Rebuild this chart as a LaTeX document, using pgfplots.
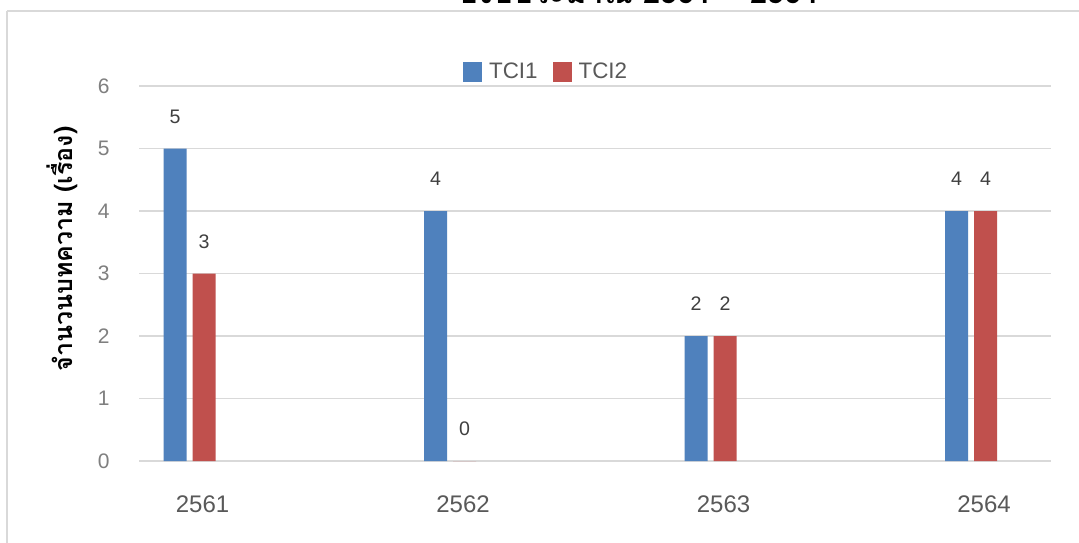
\documentclass[border=0pt]{standalone}
\usepackage{pgfplots}
\pgfplotsset{compat=1.18}
\usepackage{fontspec}
\setmainfont{Liberation Sans}
\newfontfamily\thaifont[Script=Thai]{Loma}
\definecolor{tciblue}{HTML}{4F81BD}
\definecolor{tcired}{HTML}{C0504D}
\definecolor{gridgray}{HTML}{D9D9D9}
\definecolor{txtgray}{HTML}{595959}
\definecolor{tickgray}{HTML}{7F7F7F}
\definecolor{valgray}{HTML}{404040}

\begin{document}
\begin{tikzpicture}[x=0.5pt, y=-0.5pt]
\useasboundingbox (0,0) rectangle (1079,542);
\fill[white] (0,0) rectangle (1079,542);
% chart frame (only top and left edge are inside the picture)
\draw[gridgray, line width=0.8pt] (7,11) -- (1100,11);
\draw[gridgray, line width=0.8pt] (7,11) -- (7,560);
% title, cut off at the top as in the source
\node[anchor=base, font=\thaifont\bfseries\fontsize{15.5}{18}\selectfont] at (639,3) {ปีงบประมาณ 2561 – 2564};
\coordinate (O) at (139,461);
\begin{axis}[
    at={(O)}, anchor=south west,
    scale only axis,
    width=456pt, height=187.5pt,
    ybar=3pt,
    bar width=11.5pt,
    xmin=-0.194, xmax=3.307,
    ymin=0, ymax=6,
    ytick={0,1,...,6},
    xtick={0,1,2,3},
    xticklabels={2561,2562,2563,2564},
    axis line style={draw=none},
    major tick length=0pt,
    ymajorgrids,
    grid style={color=gridgray, line width=0.9pt},
    /pgf/number format/assume math mode=true,
    yticklabel style={anchor=east, inner sep=0pt, xshift=-14.5pt, text=tickgray, font=\fontsize{10.5}{12}\selectfont},
    xticklabel style={anchor=center, inner sep=0pt, yshift=-21.5pt, xshift=6.5pt, text=txtgray, font=\fontsize{12}{14}\selectfont},
    nodes near coords,
    nodes near coords style={anchor=center, yshift=16pt, text=valgray, font=\fontsize{9.8}{11}\selectfont},
    legend columns=2,
    legend style={at={(0.4475,1.037)}, anchor=center, draw=none, fill=none,
        font=\fontsize{11.2}{13}\selectfont, text=txtgray,
        /tikz/every odd column/.append style={column sep=1.5pt},
        /tikz/every even column/.append style={column sep=5.5pt}},
    legend image code/.code={\fill[#1] (0pt,-5pt) rectangle (9.5pt,5pt);},
]
\addplot[fill=tciblue, draw=none] coordinates {(0,5) (1,4) (2,2) (3,4)};
\addplot[fill=tcired, draw=none] coordinates {(0,3) (1,0) (2,2) (3,4)};
\legend{TCI1, TCI2}
\end{axis}
\node[rotate=90, font=\thaifont\bfseries\fontsize{12.5}{14}\selectfont] at (62,249) {จำนวนบทความ (เรื่อง)};
\end{tikzpicture}
\end{document}
